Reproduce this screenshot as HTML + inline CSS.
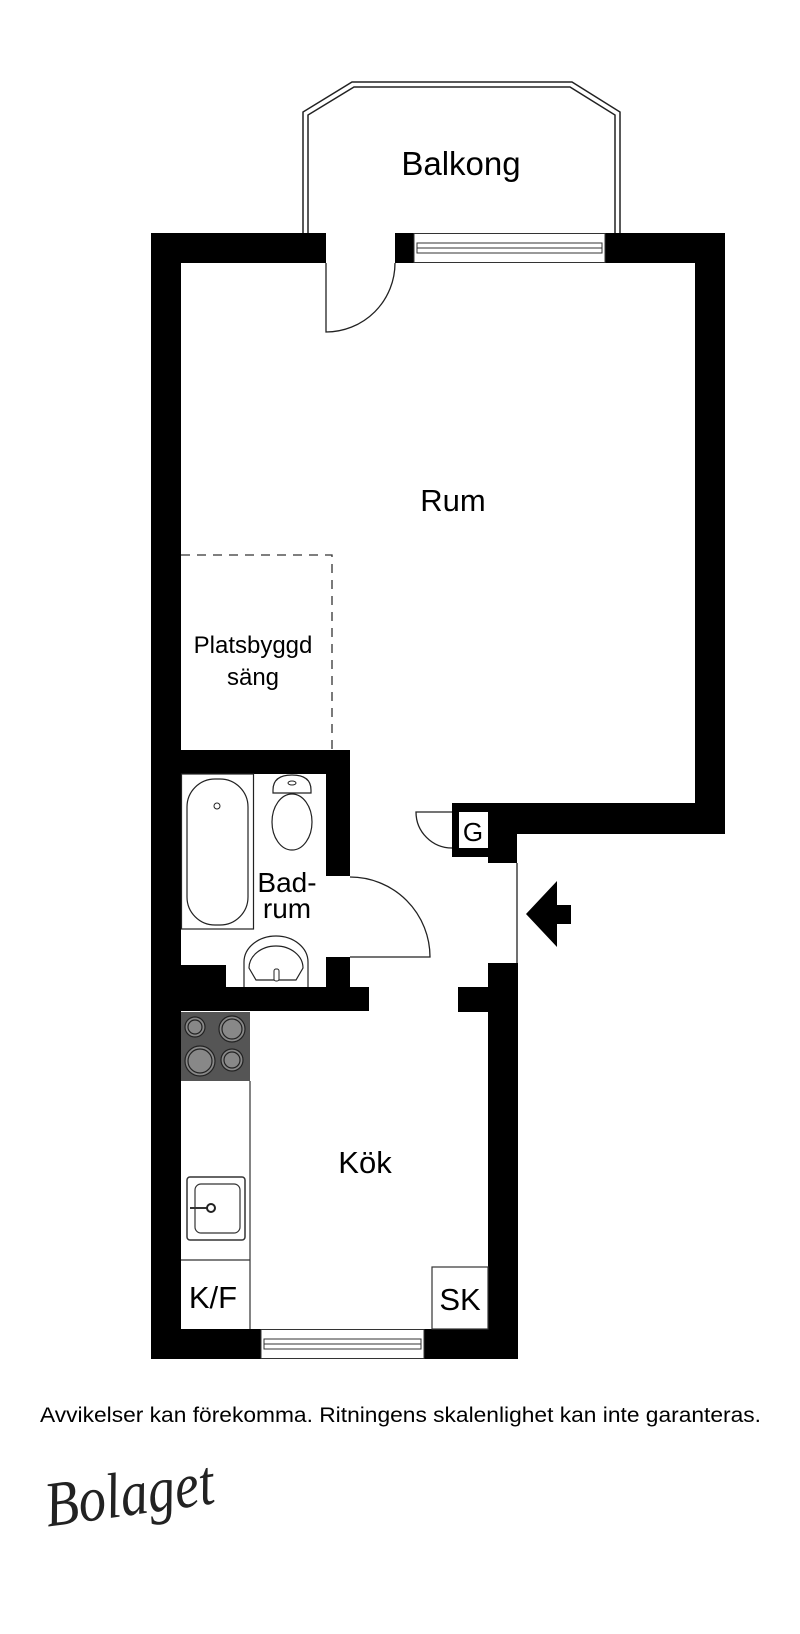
<!DOCTYPE html>
<html><head><meta charset="utf-8"><style>html,body{margin:0;padding:0;background:#fff}svg{display:block}</style></head>
<body>
<svg width="800" height="1634" viewBox="0 0 800 1634" xmlns="http://www.w3.org/2000/svg" font-family="Liberation Sans, Arial, sans-serif">
<rect width="800" height="1634" fill="#fff"/>
<!-- balcony -->
<path d="M303,233 V112 L352,82 H572 L620,112 V233" fill="none" stroke="#222" stroke-width="1.5"/>
<path d="M308,233 V115 L354,87 H570 L615,115 V233" fill="none" stroke="#222" stroke-width="1.5"/>
<text x="461" y="175" font-size="33" text-anchor="middle">Balkong</text>
<!-- walls -->
<g fill="#000">
<rect x="151" y="233" width="175" height="30"/>
<rect x="395" y="233" width="19" height="30"/>
<rect x="605" y="233" width="120" height="30"/>
<rect x="151" y="233" width="30" height="1126"/>
<rect x="695" y="233" width="30" height="601"/>
<rect x="452" y="803" width="273" height="31"/>
<rect x="452" y="803" width="36" height="54"/>
<rect x="488" y="803" width="29" height="60"/>
<rect x="488" y="963" width="30" height="396"/>
<rect x="458" y="987" width="30" height="25"/>
<rect x="181" y="750" width="169" height="24"/>
<rect x="326" y="750" width="24" height="126"/>
<rect x="326" y="957" width="24" height="30"/>
<rect x="151" y="987" width="218" height="24"/>
<rect x="181" y="965" width="45" height="22"/>
<rect x="151" y="1329" width="110" height="30"/>
<rect x="424" y="1329" width="94" height="30"/>
</g>
<rect x="459" y="812" width="29" height="36" fill="#fff"/>
<text x="473" y="841" font-size="26" text-anchor="middle">G</text>
<!-- windows -->
<rect x="414" y="233.5" width="191" height="29" fill="#fff" stroke="#333" stroke-width="1"/>
<rect x="417" y="243" width="185" height="10" fill="none" stroke="#333" stroke-width="1"/>
<line x1="417" y1="248" x2="602" y2="248" stroke="#333" stroke-width="1"/>
<rect x="261" y="1329.5" width="163" height="29" fill="#fff" stroke="#333" stroke-width="1"/>
<rect x="264" y="1339" width="157" height="10" fill="none" stroke="#333" stroke-width="1"/>
<line x1="264" y1="1344" x2="421" y2="1344" stroke="#333" stroke-width="1"/>
<!-- doors -->
<path d="M326,263 V332 A69,69 0 0 0 395,263" fill="none" stroke="#222" stroke-width="1.3"/>
<path d="M350,957 H430 A80,80 0 0 0 350,877" fill="none" stroke="#222" stroke-width="1.3"/>
<path d="M452,812 H416 A36,36 0 0 0 452,848" fill="none" stroke="#222" stroke-width="1.3"/>
<line x1="517" y1="863" x2="517" y2="963" stroke="#222" stroke-width="1.3"/>
<!-- entrance arrow -->
<path d="M526,914 L557,881 V905 H571 V924 H557 V947 Z" fill="#000"/>
<!-- bed dashed -->
<path d="M181,555 H332 V750" fill="none" stroke="#333" stroke-width="1.3" stroke-dasharray="9,7"/>
<text x="253" y="653" font-size="24" text-anchor="middle">Platsbyggd</text>
<text x="253" y="685" font-size="24" text-anchor="middle">säng</text>
<text x="453" y="511" font-size="31" text-anchor="middle">Rum</text>
<!-- bathroom fixtures -->
<rect x="181.5" y="774" width="72" height="155" fill="none" stroke="#222" stroke-width="1.2"/>
<rect x="187" y="779" width="61" height="146" rx="28" fill="none" stroke="#222" stroke-width="1.2"/>
<circle cx="217" cy="806" r="3" fill="none" stroke="#222"/>
<path d="M273,790 Q273,775 292,775 Q311,775 311,790 V793 H273 Z" fill="none" stroke="#222" stroke-width="1.2"/>
<ellipse cx="292" cy="822" rx="20" ry="28" fill="none" stroke="#222" stroke-width="1.2"/>
<ellipse cx="292" cy="783" rx="4" ry="2" fill="none" stroke="#222"/>
<path d="M244,987 V962 A32,26 0 0 1 308,962 V987" fill="none" stroke="#222" stroke-width="1.2"/>
<path d="M249,968 A27,22 0 0 1 303,968 L296,980 H256 Z" fill="none" stroke="#222" stroke-width="1.2"/>
<rect x="274" y="969" width="5" height="12" rx="2" fill="#fff" stroke="#222"/>
<text x="287" y="892" font-size="28" text-anchor="middle">Bad-</text>
<text x="287" y="918" font-size="28" text-anchor="middle">rum</text>
<!-- kitchen -->
<rect x="181" y="1012" width="69" height="69" fill="#555"/>
<g fill="#888" stroke="#222" stroke-width="1.2">
<circle cx="195" cy="1027" r="10"/><circle cx="195" cy="1027" r="7"/>
<circle cx="232" cy="1029" r="13"/><circle cx="232" cy="1029" r="10"/>
<circle cx="200" cy="1061" r="15"/><circle cx="200" cy="1061" r="12"/>
<circle cx="232" cy="1060" r="11"/><circle cx="232" cy="1060" r="8"/>
</g>
<line x1="250" y1="1081" x2="250" y2="1329" stroke="#333" stroke-width="1.2"/>
<line x1="181" y1="1260" x2="250" y2="1260" stroke="#333" stroke-width="1.2"/>
<rect x="187" y="1177" width="58" height="63" rx="3" fill="none" stroke="#333" stroke-width="1.5"/>
<rect x="195" y="1184" width="45" height="49" rx="6" fill="none" stroke="#333" stroke-width="1.2"/>
<line x1="190" y1="1208" x2="209" y2="1208" stroke="#333" stroke-width="2"/>
<circle cx="211" cy="1208" r="4" fill="#fff" stroke="#222" stroke-width="2"/>
<rect x="432" y="1267" width="56" height="62" fill="none" stroke="#333" stroke-width="1.2"/>
<text x="213" y="1308" font-size="31" text-anchor="middle">K/F</text>
<text x="460" y="1310" font-size="31" text-anchor="middle">SK</text>
<text x="365" y="1173" font-size="31" text-anchor="middle">Kök</text>
<!-- footer -->
<text x="40" y="1422" font-size="21" textLength="721" lengthAdjust="spacingAndGlyphs">Avvikelser kan förekomma. Ritningens skalenlighet kan inte garanteras.</text>
<text x="45" y="1515" font-family="Liberation Serif, serif" font-style="italic" font-size="64" fill="#222" textLength="170" lengthAdjust="spacingAndGlyphs" transform="rotate(-8 130 1500)">Bolaget</text>
</svg>
</body></html>
